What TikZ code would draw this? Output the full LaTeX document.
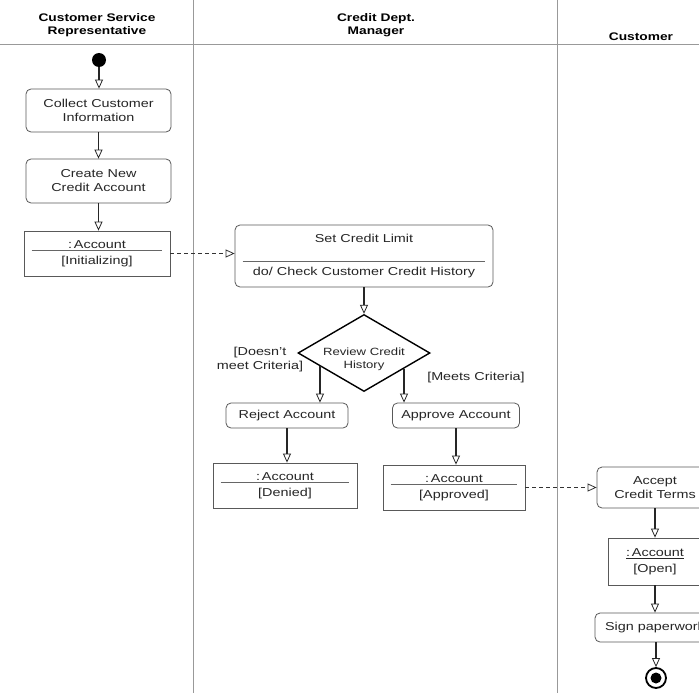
\documentclass[tikz,border=0pt]{standalone}
\usepackage{fontspec}
\setmainfont[FakeStretch=1.25]{Liberation Sans}
\usetikzlibrary{arrows.meta,shapes.geometric,calc}
\newcommand{\fsbox}{\fontsize{11.5}{14}\selectfont}
\newcommand{\fshead}{\fontsize{11}{13}\selectfont\bfseries}
\begin{document}
\begin{tikzpicture}[x=1pt,y=-1pt,
  lane/.style={draw=black!40, line width=0.8pt},
  actbox/.style={draw=black!65, line width=0.8pt, rounded corners=5pt, align=center, inner sep=0pt, font=\fsbox, text=black!85},
  objbox/.style={draw=black!65, line width=0.8pt, align=center, inner sep=0pt, font=\fsbox, text=black!85},
  sepline/.style={draw=black!60, line width=0.7pt},
  arr/.style={draw=black!85, line width=1.3pt, -{Triangle[open,width=8pt,length=9pt,line width=0.8pt]}},
  flow/.style={draw=black!80, line width=1.1pt, dash pattern=on 4pt off 3pt, -{Triangle[open,width=8pt,length=9pt,line width=0.8pt]}},
  guard/.style={font=\fsbox, align=center, text=black!85},
  headtxt/.style={font=\fshead, align=center}]
\useasboundingbox (0,0) rectangle (699,693);
\clip (0,0) rectangle (699,693);
\fill[white] (0,0) rectangle (699,693);

% swimlanes
\draw[lane] (193,0) -- (193,693);
\draw[lane] (557,0) -- (557,693);
\draw[lane] (0,44) -- (699,44);
\node[headtxt] (h1) at (97,25) {Customer Service\\Representative};
\node[headtxt] (h2) at (376,25) {Credit Dept.\\Manager};
\node[headtxt] (h3) at (641,37) {Customer};

% lane 1
\node[circle, fill=black, minimum size=14pt, inner sep=0pt] (start) at (99,60) {};
\node[actbox, minimum width=145pt, minimum height=43pt] (collect) at (98.5,110.5) {Collect Customer\\Information};
\node[actbox, minimum width=145pt, minimum height=44pt] (create) at (98.5,181) {Create New\\Credit Account};
\node[objbox, minimum width=146pt, minimum height=45pt] (init) at (97,253.5) {\underline{:\,Account}\\[2pt]{[Initializing]}};
\draw[sepline] ([xshift=8pt,yshift=3pt]init.west) -- ([xshift=-8pt,yshift=3pt]init.east);

\draw[arr] (start) -- (start |- collect.north);
\draw[arr] (collect) -- (create);
\draw[arr] (create) -- (create |- init.north);

% lane 2
\node[actbox, minimum width=258pt, minimum height=62pt] (setlimit) at (364,256) {};
\node[font=\fsbox, text=black!85] (sltop) at ($(setlimit.center)+(0,-18)$) {Set Credit Limit};
\node[font=\fsbox, text=black!85] (slbot) at ($(setlimit.center)+(0,17)$) {do/ Check Customer Credit History};
\draw[sepline] ([xshift=8pt,yshift=-5pt]setlimit.west) -- ([xshift=-8pt,yshift=-5pt]setlimit.east);

\draw[flow] (init.east) -- (init.east -| setlimit.west);

\node[diamond, draw=black, line width=1.4pt, minimum width=132pt, minimum height=77pt, inner sep=0pt, shape aspect=1.7] (rev) at (364,353) {};
\node[font=\fontsize{10.5}{13}\selectfont, align=center, text=black!85] (revtxt) at ($(rev.center)+(0,6)$) {Review Credit\\History};
\draw[arr] (setlimit.south) -- (rev.north);

\node[guard] (gno) at (260,360) {[Doesn't\\meet Criteria]};
\node[guard] (gyes) at (476,378) {[Meets Criteria]};

\node[actbox, minimum width=122pt, minimum height=25pt] (reject) at (287,415.5) {Reject Account};
\node[actbox, minimum width=127pt, minimum height=25pt] (approve) at (456,415.5) {Approve Account};

\coordinate (dl) at ($(rev.west)!0.34!(rev.south)$);
\coordinate (dr) at ($(rev.east)!0.4!(rev.south)$);
\draw[arr] (dl) -- (dl |- reject.north);
\draw[arr] (dr) -- (dr |- approve.north);

\node[objbox, minimum width=144pt, minimum height=45pt] (denied) at (285,485.5) {\underline{:\,Account}\\[2pt]{[Denied]}};
\draw[sepline] ([xshift=8pt,yshift=3pt]denied.west) -- ([xshift=-8pt,yshift=3pt]denied.east);
\node[objbox, minimum width=142pt, minimum height=45pt] (approved) at (454,487.5) {\underline{:\,Account}\\[2pt]{[Approved]}};
\draw[sepline] ([xshift=8pt,yshift=3pt]approved.west) -- ([xshift=-8pt,yshift=3pt]approved.east);

\draw[arr] (reject.south) -- (reject.south |- denied.north);
\draw[arr] (approve.south) -- (approve.south |- approved.north);

% lane 3
\node[actbox, minimum width=116pt, minimum height=41pt] (accept) at (655,487.5) {Accept\\Credit Terms};
\node[objbox, minimum width=94pt, minimum height=47pt] (open) at (655,561.5) {\underline{:\,Account}\\[2pt]{[Open]}};
\node[actbox, minimum width=120pt, minimum height=29pt] (sign) at (655,627.5) {Sign paperwork};
\node[circle, draw=black, line width=1.8pt, minimum size=20pt, inner sep=0pt] (end) at (656,678) {};
\node[circle, fill=black, minimum size=11pt, inner sep=0pt] (endin) at (end.center) {};

\draw[flow] (approved.east) -- (approved.east -| accept.west);
\draw[arr] (accept) -- (open);
\draw[arr] (open) -- (sign);
\draw[arr] (sign.south -| end.north) -- (end.north);
\end{tikzpicture}
\end{document}
